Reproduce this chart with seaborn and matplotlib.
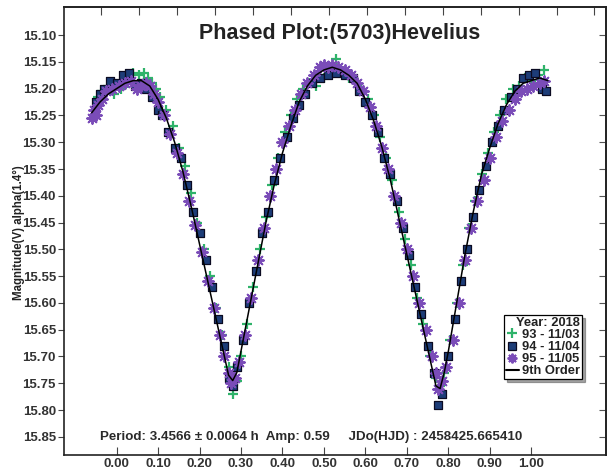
import matplotlib
matplotlib.use("Agg")
import matplotlib.pyplot as plt
from matplotlib.lines import Line2D
import seaborn as sns
import pandas as pd

# ---------------- data ----------------
phase_93 = [-0.045, -0.035, -0.02, -0.005, 0.01, 0.025, 0.04, 0.055, 0.065, 0.075, 0.085, 0.095,
            0.105, 0.12, 0.135, 0.15, 0.165, 0.18, 0.195, 0.21, 0.225, 0.24, 0.255, 0.27, 0.28,
            0.29, 0.30, 0.315, 0.33, 0.345, 0.36, 0.375, 0.39, 0.405, 0.42, 0.435, 0.45, 0.465,
            0.48, 0.50, 0.515, 0.53, 0.545, 0.56, 0.575, 0.59, 0.605, 0.62, 0.635, 0.65, 0.665,
            0.68, 0.695, 0.71, 0.725, 0.74, 0.755, 0.77, 0.78, 0.79, 0.805, 0.82, 0.835, 0.85,
            0.865, 0.88, 0.895, 0.91, 0.925, 0.94, 0.955, 0.97, 0.985, 1.0, 1.015, 1.03]
mag_93 = [15.215, 15.205, 15.195, 15.21, 15.20, 15.19, 15.17, 15.175, 15.17, 15.18, 15.19, 15.20,
          15.215, 15.24, 15.27, 15.31, 15.345, 15.395, 15.45, 15.50, 15.55, 15.61, 15.66, 15.72, 15.77,
          15.745, 15.70, 15.64, 15.57, 15.50, 15.44, 15.38, 15.33, 15.28, 15.25, 15.22, 15.20, 15.19,
          15.195, 15.18, 15.17, 15.145, 15.17, 15.18, 15.185, 15.20, 15.22, 15.25, 15.29, 15.33, 15.37,
          15.43, 15.48, 15.53, 15.59, 15.64, 15.70, 15.74, 15.755, 15.73, 15.67, 15.60, 15.53, 15.46,
          15.41, 15.36, 15.32, 15.28, 15.25, 15.22, 15.20, 15.195, 15.18, 15.185, 15.175, 15.165]

phase_94 = [-0.05, -0.04, -0.03, -0.015, 0.0, 0.015, 0.03, 0.045, 0.06, 0.07, 0.085, 0.10, 0.11,
            0.125, 0.14, 0.155, 0.17, 0.185, 0.20, 0.215, 0.23, 0.245, 0.26, 0.27, 0.28, 0.29,
            0.305, 0.32, 0.335, 0.35, 0.365, 0.38, 0.395, 0.41, 0.425, 0.44, 0.455, 0.47, 0.49,
            0.51, 0.53, 0.55, 0.57, 0.585, 0.60, 0.615, 0.63, 0.645, 0.66, 0.675, 0.69, 0.705,
            0.72, 0.735, 0.75, 0.765, 0.775, 0.785, 0.80, 0.815, 0.83, 0.845, 0.86, 0.875, 0.89,
            0.905, 0.92, 0.935, 0.95, 0.965, 0.98, 0.995, 1.01, 1.025, 1.035]
mag_94 = [15.225, 15.21, 15.20, 15.185, 15.19, 15.175, 15.17, 15.195, 15.19, 15.20, 15.215, 15.24, 15.25,
          15.28, 15.31, 15.33, 15.38, 15.43, 15.47, 15.52, 15.57, 15.63, 15.68, 15.74, 15.755, 15.72,
          15.67, 15.60, 15.54, 15.47, 15.43, 15.37, 15.33, 15.29, 15.255, 15.23, 15.21, 15.19, 15.18,
          15.175, 15.17, 15.175, 15.18, 15.205, 15.225, 15.25, 15.28, 15.33, 15.36, 15.41, 15.46, 15.51,
          15.57, 15.62, 15.68, 15.73, 15.79, 15.77, 15.70, 15.63, 15.56, 15.50, 15.44, 15.39, 15.345,
          15.30, 15.27, 15.24, 15.215, 15.20, 15.18, 15.175, 15.17, 15.20, 15.205]

phase_95 = [-0.06, -0.055, -0.05, -0.045, -0.035, -0.025, -0.01, 0.005, 0.02, 0.035, 0.05, 0.06,
            0.07, 0.08, 0.09, 0.10, 0.115, 0.13, 0.145, 0.16, 0.175, 0.19, 0.205, 0.22, 0.235,
            0.25, 0.26, 0.27, 0.275, 0.285, 0.295, 0.31, 0.325, 0.34, 0.355, 0.37, 0.385, 0.40,
            0.415, 0.43, 0.445, 0.46, 0.475, 0.49, 0.50, 0.51, 0.52, 0.535, 0.55, 0.565, 0.58,
            0.595, 0.61, 0.625, 0.64, 0.655, 0.67, 0.685, 0.70, 0.715, 0.73, 0.745, 0.76, 0.77,
            0.775, 0.785, 0.795, 0.81, 0.825, 0.84, 0.855, 0.87, 0.885, 0.90, 0.915, 0.93, 0.945,
            0.96, 0.975, 0.99, 1.005, 1.02, 1.03]
mag_95 = [15.255, 15.24, 15.25, 15.23, 15.22, 15.205, 15.20, 15.195, 15.19, 15.185, 15.20, 15.195,
          15.19, 15.195, 15.21, 15.225, 15.25, 15.285, 15.32, 15.36, 15.41, 15.455, 15.505, 15.56, 15.61,
          15.66, 15.70, 15.73, 15.75, 15.74, 15.71, 15.66, 15.59, 15.52, 15.46, 15.40, 15.35, 15.30,
          15.27, 15.24, 15.21, 15.19, 15.175, 15.16, 15.155, 15.16, 15.155, 15.16, 15.165, 15.175, 15.19,
          15.205, 15.235, 15.27, 15.31, 15.35, 15.40, 15.45, 15.50, 15.55, 15.60, 15.65, 15.70, 15.73,
          15.76, 15.745, 15.72, 15.67, 15.60, 15.52, 15.46, 15.41, 15.37, 15.33, 15.29, 15.26, 15.24,
          15.22, 15.205, 15.20, 15.195, 15.19, 15.185]

fit_phase = [-0.06, -0.04, -0.02, 0.00, 0.02, 0.04, 0.06, 0.08, 0.10, 0.12, 0.14, 0.16, 0.18, 0.20,
             0.22, 0.24, 0.26, 0.27, 0.28, 0.29, 0.30, 0.32, 0.34, 0.36, 0.38, 0.40, 0.42, 0.44,
             0.46, 0.48, 0.50, 0.52, 0.54, 0.56, 0.58, 0.60, 0.62, 0.64, 0.66, 0.68, 0.70, 0.72,
             0.74, 0.76, 0.77, 0.78, 0.79, 0.80, 0.82, 0.84, 0.86, 0.88, 0.90, 0.92, 0.94, 0.96,
             0.98, 1.00, 1.02, 1.04]
fit_mag = [15.245, 15.225, 15.21, 15.20, 15.19, 15.185, 15.185, 15.195, 15.22, 15.255, 15.30, 15.355,
           15.42, 15.49, 15.56, 15.63, 15.70, 15.735, 15.745, 15.73, 15.69, 15.61, 15.53, 15.45, 15.38,
           15.32, 15.27, 15.225, 15.195, 15.175, 15.165, 15.16, 15.165, 15.175, 15.19, 15.22, 15.26,
           15.31, 15.37, 15.44, 15.51, 15.58, 15.65, 15.72, 15.755, 15.76, 15.73, 15.69, 15.60, 15.51,
           15.43, 15.36, 15.31, 15.265, 15.23, 15.205, 15.19, 15.185, 15.18, 15.185]

series_labels = ["93 - 11/03", "94 - 11/04", "95 - 11/05", "9th Order"]
x_ticks = [0.00, 0.10, 0.20, 0.30, 0.40, 0.50, 0.60, 0.70, 0.80, 0.90, 1.00]
y_ticks = [15.10, 15.15, 15.20, 15.25, 15.30, 15.35, 15.40, 15.45, 15.50, 15.55, 15.60,
           15.65, 15.70, 15.75, 15.80, 15.85]
title_text = "Phased Plot:(5703)Hevelius"
info_text = "Period: 3.4566 \u00b1 0.0064 h  Amp: 0.59     JDo(HJD) : 2458425.665410"
ylabel_text = "Magnitude(V) alpha(1.4\u00b0)"
legend_title = "Year: 2018"

# ---------------- style ----------------
sns.set_theme(style="white")
plt.rcParams["font.family"] = ["Liberation Sans", "DejaVu Sans"]
plt.rcParams["font.weight"] = "bold"

GREEN = "#2fb36a"
NAVY = "#1d3d78"
PURPLE = "#7a4cb8"
TXT = "#333333"

AX_L, AX_R, AX_T, AX_B = 64.3, 606.0, 7.0, 455.0
fig = plt.figure(figsize=(6.08, 4.73), dpi=100)
ax = fig.add_axes([AX_L / 608, 1 - AX_B / 473, (AX_R - AX_L) / 608, (AX_B - AX_T) / 473])

df93 = pd.DataFrame({"phase": phase_93, "mag": mag_93})
df94 = pd.DataFrame({"phase": phase_94, "mag": mag_94})
df95 = pd.DataFrame({"phase": phase_95, "mag": mag_95})
dffit = pd.DataFrame({"phase": fit_phase, "mag": fit_mag})

sns.scatterplot(data=df93, x="phase", y="mag", ax=ax, marker="+", s=55,
                color=GREEN, linewidth=1.6, zorder=2, legend=False)
sns.scatterplot(data=df94, x="phase", y="mag", ax=ax, marker="s", s=40,
                color=NAVY, edgecolor="#0b0b22", linewidth=0.9, zorder=3, legend=False)
sns.scatterplot(data=df95, x="phase", y="mag", ax=ax, marker=(8, 2, 0), s=60,
                color=PURPLE, edgecolor=PURPLE, linewidth=1.4, zorder=4, legend=False)
sns.lineplot(data=dffit, x="phase", y="mag", ax=ax, color="black", linewidth=1.1,
             zorder=5, legend=False)

ax.set_xlim(-0.126, 1.18)
ax.set_ylim(15.884, 15.0475)
ax.set_xticks(x_ticks)
ax.set_xticklabels([f"{v:.2f}" for v in x_ticks])
ax.set_yticks(y_ticks)
ax.set_yticklabels([f"{v:.2f}" for v in y_ticks])
ax.set_xlabel("")
ax.set_ylabel("")

for s in ax.spines.values():
    s.set_color("#222222")
    s.set_linewidth(1.2)
    s.set_visible(True)

ax.tick_params(axis="y", direction="out", length=4, width=0.8, color="#444444",
               labelsize=9.5, labelcolor=TXT, pad=2, left=True)
ax.tick_params(axis="x", direction="in", length=6, width=0.8, color="#444444",
               labelsize=9.5, labelcolor=TXT, pad=2, bottom=True)
for lab in ax.get_xticklabels() + ax.get_yticklabels():
    lab.set_fontweight("bold")

# right inward ticks
sec_y = ax.secondary_yaxis("right")
sec_y.set_yticks(y_ticks)
sec_y.tick_params(direction="in", length=5, width=0.8, color="#555555", labelright=False)
sec_y.spines["right"].set_color("#222222")

# top inward ticks (unlabelled, different spacing)
top_ticks = [-0.0373 + 0.0915 * k for k in range(14)]
sec_x = ax.secondary_xaxis("top")
sec_x.set_xticks(top_ticks)
sec_x.tick_params(direction="in", length=6, width=0.8, color="#444444", labeltop=False)

H = AX_B - AX_T
W = AX_R - AX_L
ax.text((340 - AX_L) / W, (AX_B - 33) / H, title_text, transform=ax.transAxes,
        ha="center", va="center", fontsize=15.5, fontweight="bold", color="#222222")
ax.text((311 - AX_L) / W, (AX_B - 437) / H, info_text, transform=ax.transAxes,
        ha="center", va="center", fontsize=9.6, fontweight="bold", color="#2a2a2a")
fig.text(19 / 608, 1 - 233 / 473, ylabel_text, rotation=90, ha="center", va="center",
         fontsize=8.3, fontweight="bold", color="#222222")

handles = [
    Line2D([], [], marker="+", linestyle="none", color=GREEN, markersize=7, markeredgewidth=1.6),
    Line2D([], [], marker="s", linestyle="none", color=NAVY, markeredgecolor="#0b0b22",
           markersize=6, markeredgewidth=0.9),
    Line2D([], [], marker=(8, 2, 0), linestyle="none", color=PURPLE, markersize=7,
           markeredgewidth=1.4),
    Line2D([], [], color="black", linewidth=1.5),
]
leg = ax.legend(handles, series_labels, title=legend_title, loc="upper left",
                bbox_to_anchor=((504 - AX_L) / W, (AX_B - 315) / H),
                frameon=True, fancybox=False, shadow=True, edgecolor="black",
                framealpha=1, fontsize=9.3, title_fontsize=9.3, handlelength=1.0,
                handletextpad=0.25, labelspacing=0.0, borderpad=0.15, borderaxespad=0,
                alignment="right")
leg.get_frame().set_linewidth(0.9)
for t in leg.get_texts():
    t.set_fontweight("bold")
    t.set_color("#222222")
leg.get_title().set_fontweight("bold")
leg.get_title().set_color("#222222")

fig.savefig("out.png", dpi=100, facecolor="white")
